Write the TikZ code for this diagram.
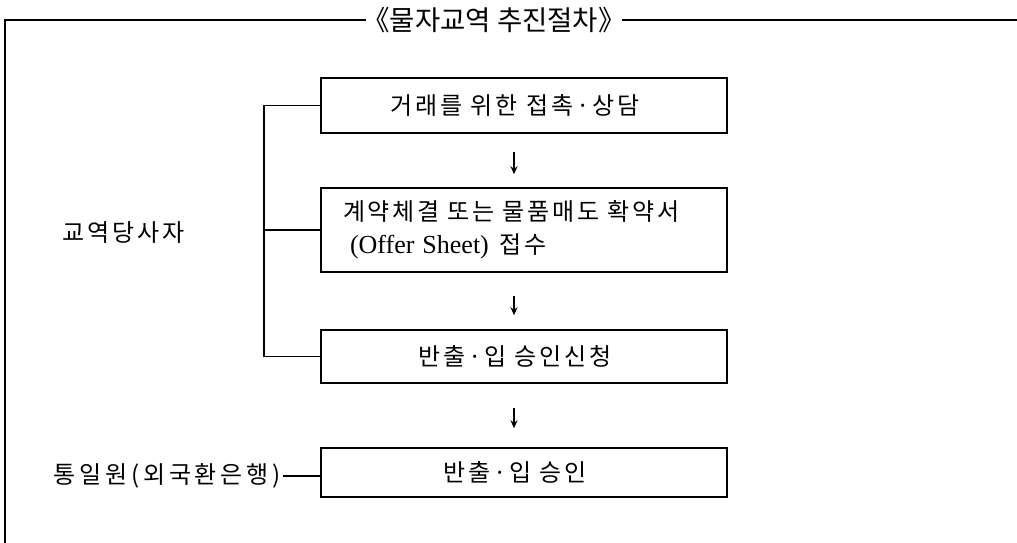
\documentclass[tikz,border=0pt]{standalone}
\usepackage{fontspec}
\setmainfont{Liberation Serif}
\newfontfamily\kr{Noto Sans CJK KR}[LetterSpace=12]
\newfontfamily\krt{Noto Sans CJK KR}
\usetikzlibrary{arrows.meta,calc}
\begin{document}
\begin{tikzpicture}[x=1pt,y=-1pt,
  link/.style={line width=1.5pt},
  box/.style={draw, line width=1.5pt, minimum width=406pt, inner sep=0pt,
    font=\kr\fontsize{24}{33}\selectfont},
  lab/.style={inner sep=2pt, font=\kr\fontsize{24}{33}\selectfont},
  arr/.style={-{Stealth[length=8pt,width=7pt]}, line width=1.2pt}]
\useasboundingbox (0,0) rectangle (1017,543);
% frame
\draw[link] (5,543) -- (5,20) -- (1017,20);
\node[fill=white, inner xsep=-4pt, inner ysep=2pt, font=\krt\fontsize{27.5}{27.5}\selectfont] (title) at (494,20) {《물자교역 추진절차》};
% boxes
\node[box, minimum height=55pt] (b1) at (524,105.5) {\hspace*{-18pt}거래를 위한 접촉·상담};
\node[box, minimum height=84pt, text width=362pt, inner xsep=22pt, align=left] (b2) at (524,230)
  {계약체결 또는 물품매도 확약서\\\hspace*{7pt}{\rmfamily\fontsize{26}{33}\selectfont (Offer Sheet)}\hspace{3pt} 접수};
\node[box, minimum height=53pt] (b3) at (524,356.5) {\hspace*{-18pt}반출·입 승인신청};
\node[box, minimum height=49pt] (b4) at (524,472.5) {\hspace*{-18pt}반출·입 승인};
% arrows
\draw[arr] ($(b1.south)+(-10,18)$) -- ($(b2.north)+(-10,-13)$);
\draw[arr] ($(b2.south)+(-10,23)$) -- ($(b3.north)+(-10,-14)$);
\draw[arr] ($(b3.south)+(-10,24)$) -- ($(b4.north)+(-10,-19)$);
% bracket
\coordinate (bx) at (264,0);
\draw[link] (b1.west) -- (b1.west -| bx) -- (b3.west -| bx) -- (b3.west);
\draw[link] (b2.west) -- (b2.west -| bx);
% left labels
\node[lab] (party) at (123.5,233) {교역당사자};
\node[lab, anchor=east] (gov) at (283,476) {\addfontfeature{LetterSpace=16}통일원(외국환은행)};
\draw[link] (gov.east) -- (gov.east -| b4.west);
\end{tikzpicture}
\end{document}
